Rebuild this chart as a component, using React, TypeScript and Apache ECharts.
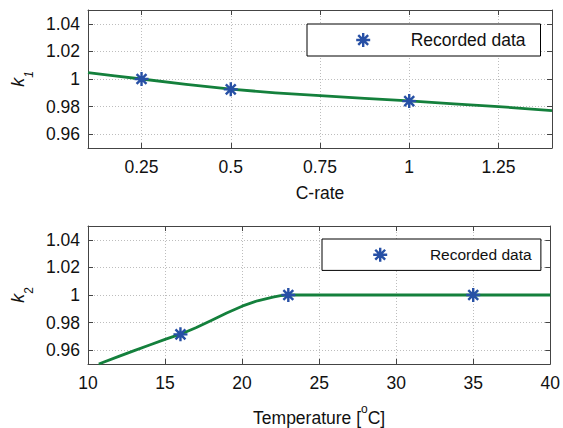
import React, { useEffect, useRef } from 'react';
import * as echarts from 'echarts';

// ---- Data ----
const cRateRecorded = [0.25, 0.5, 1.0];
const k1Recorded = [1.0, 0.9925, 0.984];
const cRateFit = [0.1, 0.175, 0.25, 0.375, 0.5, 0.625, 0.75, 0.875, 1.0, 1.125, 1.25, 1.4];
const k1Fit = [1.0046, 1.0022, 1.0, 0.9961, 0.9926, 0.99, 0.988, 0.986, 0.9841, 0.982, 0.98, 0.9771];

const tempRecorded = [16, 23, 35];
const k2Recorded = [0.9715, 1.0, 1.0];
const tempFit = [10.7, 12, 13, 14, 15, 16, 17, 18, 19, 20, 21, 22, 22.5, 23, 40];
const k2Fit = [0.95, 0.9555, 0.9597, 0.9638, 0.9678, 0.9716, 0.9763, 0.9815, 0.987, 0.9919, 0.9958, 0.9985, 0.9996, 1.0, 1.0];

const cRateTicks = [0.25, 0.5, 0.75, 1, 1.25];
const tempTicks = [10, 15, 20, 25, 30, 35, 40];
const kTicks = [0.96, 0.98, 1, 1.02, 1.04];

const legendName = 'Recorded data';

const FONT = '"Liberation Sans", Arial, Helvetica, sans-serif';
const AX = '#444';
const TXT = '#111';
const GRIDC = '#bdbdbd';
const BLUE = '#2750a5';
const GREEN = '#14803c';
const STAR = 'path://M7,0L7,14M0,7L14,7M2.05,2.05L11.95,11.95M11.95,2.05L2.05,11.95';

const fmt = (v: number) => String(+Number(v).toFixed(2));

function xAxesFor(gridIndex: number, min: number, max: number, ticks: number[], name: string, nameGap: number, rich?: any) {
  const common = {
    type: 'value', gridIndex, min, max,
    axisLine: { show: true, onZero: false, lineStyle: { color: AX, width: 1 } },
    axisTick: { show: true, inside: true, length: 5, customValues: ticks, lineStyle: { color: AX } },
  };
  return [
    {
      ...common,
      position: 'bottom',
      axisLabel: { customValues: ticks, margin: 10, fontSize: 17.5, color: TXT, fontFamily: FONT, formatter: fmt },
      splitLine: { show: true, lineStyle: { color: GRIDC, type: [1, 2], width: 1 } },
      name, nameLocation: 'middle', nameGap,
      nameTextStyle: { fontSize: 17.5, color: TXT, fontFamily: FONT, ...(rich ? { rich } : {}) },
    },
    { ...common, position: 'top', axisLabel: { show: false }, splitLine: { show: false } },
  ];
}

function yAxesFor(gridIndex: number, sub: string) {
  const common = {
    type: 'value', gridIndex, min: 0.95, max: 1.05,
    axisLine: { show: true, onZero: false, lineStyle: { color: AX, width: 1 } },
    axisTick: { show: true, inside: true, length: 5, customValues: kTicks, lineStyle: { color: AX } },
  };
  return [
    {
      ...common,
      position: 'left',
      axisLabel: { customValues: kTicks, margin: 8, fontSize: 17.5, color: TXT, fontFamily: FONT, formatter: fmt },
      splitLine: { show: true, lineStyle: { color: GRIDC, type: [1, 2], width: 1 } },
      name: `{k|k}{s|${sub}}`,
      nameLocation: 'middle',
      nameRotate: 90,
      nameGap: 57,
      nameTextStyle: {
        rich: {
          k: { fontSize: 18, fontStyle: 'italic', fontFamily: FONT, color: TXT, lineHeight: 18, verticalAlign: 'top' },
          s: { fontSize: 12, fontStyle: sub === '1' ? 'italic' : 'normal', fontFamily: FONT, color: TXT, lineHeight: 12, verticalAlign: 'top', padding: [14, 0, 0, 0] },
        },
      },
    },
    { ...common, position: 'right', axisLabel: { show: false }, splitLine: { show: false } },
  ];
}

function legendAt(left: number, top: number, fontSize: number, padding: number[], textPadLeft: number, lineHeight: number) {
  return {
    data: [legendName],
    left, top,
    orient: 'horizontal',
    backgroundColor: '#fff',
    borderColor: '#000',
    borderWidth: 1,
    borderRadius: 0,
    padding,
    itemWidth: 14,
    itemHeight: 14,
    selectedMode: false,
    itemStyle: { color: 'transparent', borderColor: BLUE, borderWidth: 2.4 },
    textStyle: { fontSize, fontFamily: FONT, color: TXT, lineHeight, padding: [0, 0, 0, textPadLeft] },
  };
}

export default function App() {
  const ref = useRef<HTMLDivElement>(null);
  useEffect(() => {
    if (!ref.current) return;
    const chart = echarts.init(ref.current, undefined, { renderer: 'svg' });
    const tempRich = {
      a: { fontSize: 17.5, fontFamily: FONT, color: TXT, lineHeight: 24, verticalAlign: 'bottom' },
      sup: { fontSize: 12, fontFamily: FONT, color: TXT, lineHeight: 12, verticalAlign: 'top' },
    };
    const option: any = {
      animation: false,
      backgroundColor: '#fff',
      grid: [
        { left: 88, right: 11, top: 10, height: 138, show: false },
        { left: 88, right: 11, top: 226, height: 138, show: false },
      ],
      xAxis: [
        ...xAxesFor(0, 0.1, 1.4, cRateTicks, 'C-rate', 36),
        ...xAxesFor(1, 10, 40, tempTicks, '{a|Temperature [}{sup|o}{a|C]}', 39, tempRich),
      ],
      yAxis: [...yAxesFor(0, '1'), ...yAxesFor(1, '2')],
      legend: [
        legendAt(307, 24, 17.5, [7, 15, 7, 48], 35.5, 18),
        legendAt(322, 239, 15.5, [7.5, 9.3, 7.5, 50], 37.7, 16),
      ],
      series: [
        {
          name: 'k1 fit', type: 'line', xAxisIndex: 0, yAxisIndex: 0,
          data: cRateFit.map((x, i) => [x, k1Fit[i]]),
          smooth: false, showSymbol: false, symbol: 'none',
          lineStyle: { color: GREEN, width: 2.8, join: 'round' }, z: 2,
        },
        {
          name: legendName, type: 'scatter', xAxisIndex: 0, yAxisIndex: 0,
          data: cRateRecorded.map((x, i) => [x, k1Recorded[i]]),
          symbol: STAR, symbolSize: 14,
          itemStyle: { color: 'transparent', borderColor: BLUE, borderWidth: 2.4, opacity: 1 },
          z: 3,
        },
        {
          name: 'k2 fit', type: 'line', xAxisIndex: 2, yAxisIndex: 2,
          data: tempFit.map((x, i) => [x, k2Fit[i]]),
          smooth: false, showSymbol: false, symbol: 'none',
          lineStyle: { color: GREEN, width: 2.8, join: 'round' }, z: 2,
        },
        {
          name: legendName, type: 'scatter', xAxisIndex: 2, yAxisIndex: 2,
          data: tempRecorded.map((x, i) => [x, k2Recorded[i]]),
          symbol: STAR, symbolSize: 14,
          itemStyle: { color: 'transparent', borderColor: BLUE, borderWidth: 2.4, opacity: 1 },
          z: 3,
        },
      ],
    };
    chart.setOption(option);
    return () => chart.dispose();
  }, []);
  return (
    <div
      ref={ref}
      style={{ position: 'fixed', left: 0, top: 0, width: 563, height: 428, background: '#fff' }}
    />
  );
}
